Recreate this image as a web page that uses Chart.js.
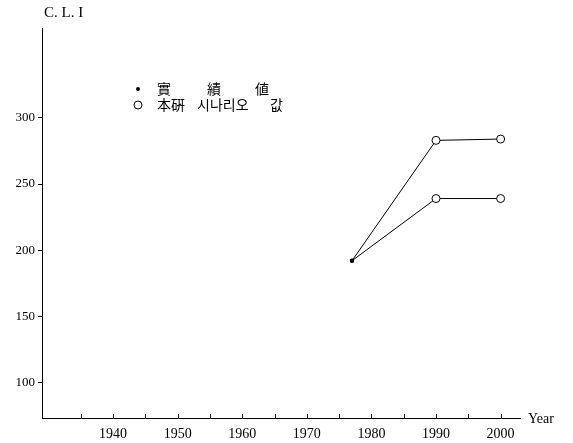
<!DOCTYPE html>
<html>
<head>
<meta charset="utf-8">
<script src="https://cdn.jsdelivr.net/npm/chart.js@4/dist/chart.umd.min.js"></script>
<style>
  html, body { margin: 0; padding: 0; background: #fff; }
  #wrap { width: 573px; height: 443px; position: relative; }
</style>
</head>
<body>
<div id="wrap"><canvas id="cliChart"></canvas></div>
<script>
// data
const years = [1977, 1990, 2000];
const highScenario = [192, 283, 284];
const lowScenario = [192, 239, 239];
const yTickValues = [100, 150, 200, 250, 300];
const legendLabels = [["實", "績", "値"], ["本硏", "시나리오", "값"]];
const yTitle = "C. L. I";
const xTitle = "Year";

const serif = "'Liberation Serif', 'DejaVu Serif', serif";

function toPoints(values) {
  return years.map((y, i) => ({ x: y, y: values[i] }));
}

// first point is the observed value (small filled dot), the rest are scenario circles
const pointStyles = ["rect", "circle", "circle"];
const pointRadius = [2, 4, 4];
const pointFill = ["#000", "#fff", "#fff"];

// x offsets of the legend words, spread out like the original
const legendWordX = [[157, 207, 255], [157, 197, 270]];

// text, legend and inward x ticks
const extras = {
  id: "extras",
  afterDraw(chart) {
    const ctx = chart.ctx;
    const x = chart.scales.x;
    const area = chart.chartArea;
    ctx.save();
    ctx.strokeStyle = "#000";
    ctx.lineWidth = 1;
    x.ticks.forEach((t) => {
      const px = Math.round(x.getPixelForValue(t.value)) + 0.5;
      ctx.beginPath();
      ctx.moveTo(px, area.bottom);
      ctx.lineTo(px, area.bottom - 4);
      ctx.stroke();
    });

    ctx.fillStyle = "#000";
    ctx.font = "15px " + serif;
    ctx.textBaseline = "middle";
    ctx.textAlign = "left";
    ctx.fillText(yTitle, 44, 13);
    ctx.font = "14px " + serif;
    ctx.fillText(xTitle, 528, 419);

    // legend
    ctx.beginPath();
    ctx.arc(138, 89, 2, 0, Math.PI * 2);
    ctx.fill();
    ctx.beginPath();
    ctx.arc(138, 105, 4, 0, Math.PI * 2);
    ctx.stroke();
    ctx.font = "14px 'Noto Sans CJK KR', 'Noto Sans CJK TC', sans-serif";
    legendLabels.forEach((words, row) => {
      words.forEach((w, i) => {
        ctx.fillText(w, legendWordX[row][i], row === 0 ? 89 : 105);
      });
    });
    ctx.restore();
  },
};

const ctx = document.getElementById("cliChart").getContext("2d");
const cliChart = new Chart(ctx, {
  type: "line",
  data: {
    datasets: [
      {
        label: "high",
        data: toPoints(highScenario),
        borderColor: "#000",
        borderWidth: 1,
        pointStyle: pointStyles,
        pointRadius: pointRadius,
        pointBackgroundColor: pointFill,
        pointBorderColor: "#000",
        pointBorderWidth: 1,
      },
      {
        label: "low",
        data: toPoints(lowScenario),
        borderColor: "#000",
        borderWidth: 1,
        pointStyle: pointStyles,
        pointRadius: pointRadius,
        pointBackgroundColor: pointFill,
        pointBorderColor: "#000",
        pointBorderWidth: 1,
      },
    ],
  },
  options: {
    responsive: true,
    maintainAspectRatio: false,
    animation: false,
    layout: { padding: { top: 28, right: 53, left: 0, bottom: 0 } },
    plugins: {
      legend: { display: false },
      tooltip: { enabled: false },
    },
    scales: {
      x: {
        type: "linear",
        min: 1929,
        max: 2003,
        afterBuildTicks: (scale) => {
          const list = [];
          for (let v = 1935; v <= 2000; v += 5) list.push({ value: v });
          scale.ticks = list;
        },
        afterFit: (scale) => { scale.height = 25; },
        grid: { display: false },
        border: { display: true, color: "#000", width: 1 },
        ticks: {
          color: "#000",
          font: { family: serif, size: 14 },
          padding: 0,
          maxRotation: 0,
          autoSkip: false,
          callback: (v) => (v % 10 === 0 ? String(v) : ""),
        },
      },
      y: {
        min: 73,
        max: 368,
        afterBuildTicks: (scale) => {
          scale.ticks = yTickValues.map((v) => ({ value: v }));
        },
        afterFit: (scale) => { scale.width = 42; },
        grid: { drawOnChartArea: false, tickLength: 4, color: "#000" },
        border: { display: true, color: "#000", width: 1 },
        ticks: {
          color: "#000",
          font: { family: serif, size: 13 },
          padding: 3,
        },
      },
    },
  },
  plugins: [extras],
});
</script>
</body>
</html>
